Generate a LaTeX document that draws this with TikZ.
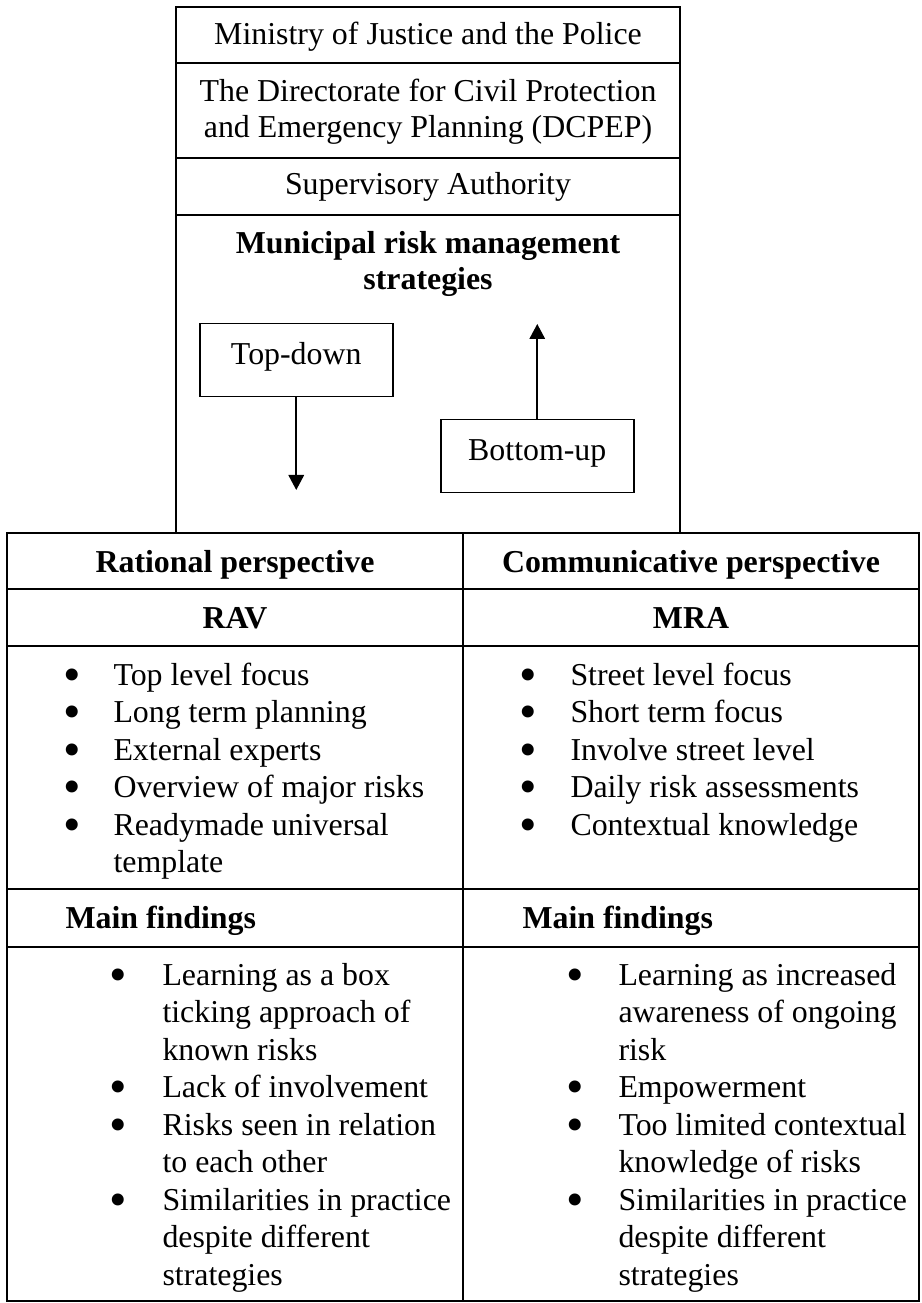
\documentclass[tikz,border=0pt]{standalone}
\usepackage{fontspec}
\setmainfont{Liberation Serif}
\usetikzlibrary{arrows.meta,positioning}

\newcommand{\bl}{\makebox[0pt]{\raisebox{-2.4pt}{\fontsize{20}{15}\selectfont\textbullet}}}

\tikzset{
  txt/.style={inner sep=0pt, font=\fontsize{12.75}{14.6}\selectfont},
  hd/.style={inner sep=0pt, font=\fontsize{12.75}{14.6}\selectfont\bfseries},
  lst/.style={inner sep=0pt, anchor=base west, font=\fontsize{12.75}{15}\selectfont},
  flowbox/.style={draw, line width=0.6pt, minimum width=77.2pt, minimum height=29.2pt,
    text height=10pt, text depth=6.8pt, font=\fontsize{12.75}{14.6}\selectfont},
  flow/.style={line width=0.7pt, -{Triangle[length=6pt,width=6.2pt]}},
  rule/.style={line width=0.8pt}
}

\begin{document}
\begin{tikzpicture}[x=0.4pt,y=-0.4pt]
    \useasboundingbox (0,0) rectangle (921,1303);

    % Upper frame
    \draw[rule] (176,7) rectangle (680,533);
    \foreach \y in {63,158,215} \draw[rule] (176,\y) -- (680,\y);

    % multi-line nodes sit on their last baseline
    \node[txt, anchor=base] (ministry) at (428,45) {Ministry of Justice and the Police};
    \node[txt, anchor=base, align=center] (dcpep) at (428,138) {The Directorate for Civil Protection\\and Emergency Planning (DCPEP)};
    \node[txt, anchor=base] (superv) at (428,195) {Supervisory Authority};
    \node[hd, anchor=base, align=center] (strat) at (428,290) {Municipal risk management\\strategies};

    % Top-down and bottom-up
    \node[flowbox, anchor=north west] (topdown) at (199,323) {Top-down};
    \node[flowbox, anchor=north west] (bottomup) at (440,419) {Bottom-up};
    \coordinate (downend) at (296,490);
    \coordinate (upend) at (537,324);
    \draw[flow] (topdown.south) -- (topdown.south |- downend);
    \draw[flow] (bottomup.north) -- (bottomup.north |- upend);

    % Table
    \draw[rule] (7,533) rectangle (919,1301);
    \foreach \y in {589,646,889,947} \draw[rule] (7,\y) -- (919,\y);
    \draw[rule] (463,533) -- (463,1301);

    \node[hd, anchor=base] (rational) at (235,572) {Rational perspective};
    \node[hd, anchor=base] (communic) at (691,572) {Communicative perspective};
    \node[hd, anchor=base] (rav) at (235,628) {RAV};
    \node[hd, anchor=base] (mra) at (691,628) {MRA};

    \node[lst] (ravlist) at (72,685) {\begin{tabular}[t]{@{}l@{\hspace{16.4pt}}l@{}}
        \bl & Top level focus\\
        \bl & Long term planning\\
        \bl & External experts\\
        \bl & Overview of major risks\\
        \bl & Readymade universal\\
            & template
      \end{tabular}};
    \node[lst] (mralist) at (528,685) {\begin{tabular}[t]{@{}l@{\hspace{16.8pt}}l@{}}
        \bl & Street level focus\\
        \bl & Short term focus\\
        \bl & Involve street level\\
        \bl & Daily risk assessments\\
        \bl & Contextual knowledge
      \end{tabular}};

    \node[hd, anchor=base west] (ravmain) at (65,928) {Main findings};
    \node[hd, anchor=base west] (mramain) at (522,928) {Main findings};

    \node[lst] (ravfind) at (118,985) {\begin{tabular}[t]{@{}l@{\hspace{17.6pt}}l@{}}
        \bl & Learning as a box\\
            & ticking approach of\\
            & known risks\\
        \bl & Lack of involvement\\
        \bl & Risks seen in relation\\
            & to each other\\
        \bl & Similarities in practice\\
            & despite different\\
            & strategies
      \end{tabular}};
    \node[lst] (mrafind) at (575,985) {\begin{tabular}[t]{@{}l@{\hspace{17.2pt}}l@{}}
        \bl & Learning as increased\\
            & awareness of ongoing\\
            & risk\\
        \bl & Empowerment\\
        \bl & Too limited contextual\\
            & knowledge of risks\\
        \bl & Similarities in practice\\
            & despite different\\
            & strategies
      \end{tabular}};
\end{tikzpicture}
\end{document}
